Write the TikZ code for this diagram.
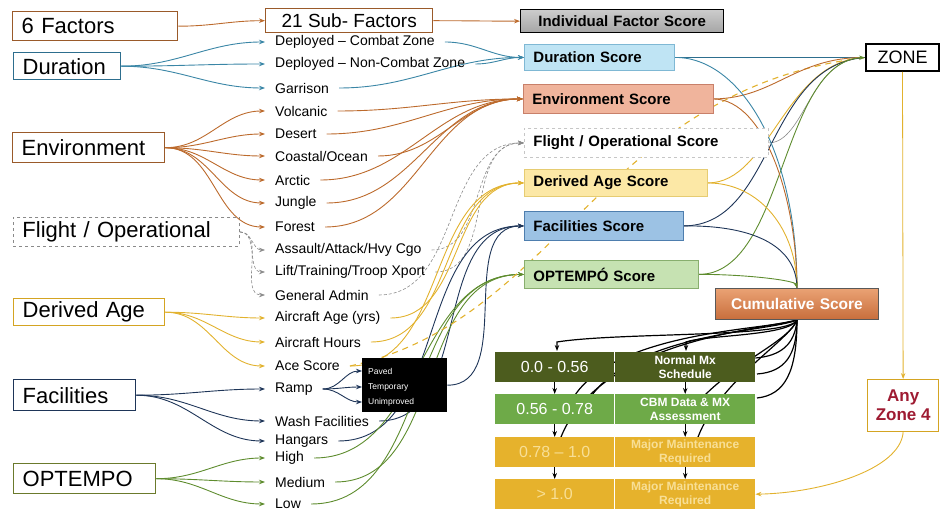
\documentclass[tikz,border=0pt]{standalone}
\usepackage{fontspec}
\setmainfont{Liberation Sans}
\usetikzlibrary{arrows.meta}
\pgfdeclarelayer{bg}
\pgfsetlayers{bg,main}
\definecolor{brn}{HTML}{BC6A2C}
\definecolor{brnb}{HTML}{9A5A2A}
\definecolor{dblue}{HTML}{3A86A6}
\definecolor{dblueb}{HTML}{2D6E8E}
\definecolor{gry}{HTML}{8A8A8A}
\definecolor{gold}{HTML}{E2B22E}
\definecolor{goldb}{HTML}{D4A422}
\definecolor{navy}{HTML}{1E3558}
\definecolor{olv}{HTML}{5E8C2E}
\definecolor{olvb}{HTML}{6B7A2C}
\definecolor{dscf}{HTML}{BFE4F4}
\definecolor{dscb}{HTML}{7FB8D4}
\definecolor{escf}{HTML}{F0B49C}
\definecolor{escb}{HTML}{C8806A}
\definecolor{ascf}{HTML}{FCE8A6}
\definecolor{ascb}{HTML}{E6CC72}
\definecolor{fscf}{HTML}{9CC2E4}
\definecolor{fscb}{HTML}{4E7EAE}
\definecolor{oscf}{HTML}{C6E2B2}
\definecolor{oscb}{HTML}{88AE6E}
\definecolor{cumt}{HTML}{EAA274}
\definecolor{cumb}{HTML}{C86E3C}
\definecolor{rowa}{HTML}{4C5C1E}
\definecolor{rowb}{HTML}{6EAA48}
\definecolor{rowc}{HTML}{E6B22C}
\definecolor{ltxt}{HTML}{F8DF96}
\definecolor{dred}{HTML}{9E1B32}
\begin{document}
\begin{tikzpicture}[x=1pt,y=-1pt,
 fbox/.style={draw, line width=1.4pt, anchor=north west, inner xsep=9pt, inner ysep=0pt, align=left, font=\fontsize{22}{24}\selectfont},
 sub/.style={anchor=west, inner xsep=10pt, inner ysep=1pt, font=\fontsize{14}{16}\selectfont},
 sbox/.style={draw, line width=0.9pt, anchor=north west, inner xsep=9pt, inner ysep=0pt, align=left, font=\bfseries\fontsize{15}{17}\selectfont},
 tip/.style={-{Stealth[length=6pt,width=4.5pt]}},
 cell/.style={anchor=north west, inner sep=0pt, align=center, minimum height=30pt},
 ln/.style={line width=0.9pt},
 blk/.style={line width=1.2pt, black},
]
\useasboundingbox (0,0) rectangle (940,510);

% ---------- left factor boxes ----------
\node[fbox, draw=brnb, minimum width=165pt, minimum height=29pt, text width=147pt] (sixf) at (12,11) {6 Factors};
\node[fbox, draw=dblueb, minimum width=107pt, minimum height=27pt, text width=89pt] (dur) at (13,52) {Duration};
\node[fbox, draw=brnb, minimum width=152pt, minimum height=30pt, text width=134pt] (env) at (12,132) {Environment};
\node[fbox, draw=gry, dashed, line width=0.9pt, minimum width=226pt, minimum height=29pt, text width=208pt] (flt) at (13,217) {Flight / Operational};
\node[fbox, draw=goldb, minimum width=151pt, minimum height=27pt, text width=133pt] (dage) at (13,298) {Derived Age};
\node[fbox, draw=navy, minimum width=122pt, minimum height=31pt, text width=104pt] (fac) at (13,379) {Facilities};
\node[fbox, draw=olvb, minimum width=142pt, minimum height=30pt, text width=124pt] (opt) at (13,463) {OPTEMPO};

% ---------- sub factors ----------
\node[draw=brnb, line width=1.4pt, anchor=north west, minimum width=167pt, minimum height=24pt, inner sep=0pt, font=\fontsize{19}{21}\selectfont] (sub21) at (265,8) {21 Sub- Factors};
\node[sub] (s1) at (265,42) {Deployed – Combat Zone};
\node[sub] (s2) at (265,64) {Deployed – Non-Combat Zone};
\node[sub] (s3) at (265,88) {Garrison};
\node[sub] (s4) at (265,111) {Volcanic};
\node[sub] (s5) at (265,134) {Desert};
\node[sub] (s6) at (265,156) {Coastal/Ocean};
\node[sub] (s7) at (265,180) {Arctic};
\node[sub] (s8) at (265,203) {Jungle};
\node[sub] (s9) at (265,227) {Forest};
\node[sub] (s10) at (265,250) {Assault/Attack/Hvy Cgo};
\node[sub] (s11) at (265,272) {Lift/Training/Troop Xport};
\node[sub] (s12) at (265,295) {General Admin};
\node[sub] (s13) at (265,318) {Aircraft Age (yrs)};
\node[sub] (s14) at (265,342) {Aircraft Hours};
\node[sub] (s15) at (265,366) {Ace Score};
\node[sub] (s16) at (265,389) {Ramp};
\node[sub] (s17) at (265,421) {Wash Facilities};
\node[sub] (s18) at (265,441) {Hangars};
\node[sub] (s19) at (265,458) {High};
\node[sub] (s20) at (265,482) {Medium};
\node[sub] (s21) at (265,504) {Low};

% black ramp box
\node[fill=black, anchor=north west, minimum width=85pt, minimum height=54pt, inner sep=0pt] (rbox) at (362,358) {};
\node[anchor=west, inner xsep=6pt, inner ysep=0pt, text=white, font=\fontsize{8.5}{10}\selectfont] (pv) at (362,371) {Paved};
\node[anchor=west, inner xsep=6pt, inner ysep=0pt, text=white, font=\fontsize{8.5}{10}\selectfont] (tp) at (362,387) {Temporary};
\node[anchor=west, inner xsep=6pt, inner ysep=0pt, text=white, font=\fontsize{8.5}{10}\selectfont] (un) at (362,402) {Unimproved};

% ---------- score boxes ----------
\node[sbox, draw=black, line width=1.3pt, top color=gray!40, bottom color=gray!70, minimum width=203pt, minimum height=23pt, text width=185pt, align=center] (ifs) at (520,9) {Individual Factor Score};
\node[sbox, draw=dscb, fill=dscf, minimum width=150pt, minimum height=26pt, text width=132pt] (dsc) at (524,44) {Duration Score};
\node[sbox, draw=escb, fill=escf, minimum width=190pt, minimum height=29pt, text width=172pt] (esc) at (523,84) {Environment Score};
\node[sbox, draw=gray!45, dashed, fill=white, minimum width=244pt, minimum height=29pt, text width=226pt] (fsc) at (524,128) {Flight / Operational Score};
\node[sbox, draw=ascb, fill=ascf, minimum width=183pt, minimum height=27pt, text width=165pt] (asc) at (524,169) {Derived Age Score};
\node[sbox, draw=fscb, fill=fscf, minimum width=159pt, minimum height=29pt, text width=141pt] (fasc) at (524,211) {Facilities Score};
\node[sbox, draw=oscb, fill=oscf, minimum width=174pt, minimum height=28pt, text width=156pt] (osc) at (524,260) {OPTEMPÓ Score};
\node[sbox, draw=gray!70!black, top color=cumt, bottom color=cumb, text=white, minimum width=163pt, minimum height=31pt, text width=145pt, align=center, font=\bfseries\fontsize{15.5}{17}\selectfont] (cum) at (715,288) {Cumulative Score};
\node[draw=black, line width=2pt, anchor=north west, minimum width=73pt, minimum height=27pt, inner sep=0pt, font=\fontsize{18}{20}\selectfont] (zone) at (865,43) {ZONE};
\node[draw=goldb, line width=1.3pt, anchor=north west, minimum width=71pt, minimum height=52pt, inner sep=0pt, align=center, text=dred, font=\bfseries\fontsize{17}{19}\selectfont] (anyz) at (867,379) {Any\\Zone 4};

% ---------- table ----------
\node[cell, fill=rowa, minimum width=119pt, text=white, font=\fontsize{16}{18}\selectfont] (r1a) at (495,352) {0.0 - 0.56};
\node[cell, fill=rowa, minimum width=140pt, text=white, font=\bfseries\fontsize{12}{14}\selectfont] (r1b) at (615,352) {Normal Mx\\Schedule};
\node[cell, fill=rowb, minimum width=119pt, text=white, font=\fontsize{16}{18}\selectfont] (r2a) at (495,394) {0.56 - 0.78};
\node[cell, fill=rowb, minimum width=140pt, text=white, font=\bfseries\fontsize{12}{14}\selectfont] (r2b) at (615,394) {CBM Data \& MX\\Assessment};
\node[cell, fill=rowc, minimum width=119pt, text=ltxt, font=\fontsize{16}{18}\selectfont] (r3a) at (495,437) {0.78 – 1.0};
\node[cell, fill=rowc, minimum width=140pt, text=ltxt, font=\bfseries\fontsize{12}{14}\selectfont] (r3b) at (615,437) {Major Maintenance\\Required};
\node[cell, fill=rowc, minimum width=119pt, text=ltxt, font=\fontsize{16}{18}\selectfont] (r4a) at (495,479) {> 1.0};
\node[cell, fill=rowc, minimum width=140pt, text=ltxt, font=\bfseries\fontsize{12}{14}\selectfont] (r4b) at (615,479) {Major Maintenance\\Required};

% ---------- factor -> sub factor connectors ----------
\draw[brn, ln, tip] (sixf.east) to[out=0,in=180] (sub21.west);
\draw[brn, ln, tip] (sub21.east) to[out=0,in=180] (ifs.west);
\foreach \s in {s1,s2,s3} \draw[dblue, ln, tip] (dur.east) to[out=0,in=180] (\s.west);
\foreach \s in {s4,s5,s6,s7,s8,s9} \draw[brn, ln, tip] (env.east) to[out=0,in=180] (\s.west);
\foreach \s in {s10,s11,s12} \draw[gry, line width=0.6pt, densely dashed, tip] (flt.east) to[out=0,in=180] (\s.west);
\foreach \s in {s13,s14,s15} \draw[gold, ln, tip] (dage.east) to[out=0,in=180] (\s.west);
\foreach \s in {s16,s17,s18} \draw[navy, ln, tip] (fac.east) to[out=0,in=180] (\s.west);
\foreach \s in {s19,s20,s21} \draw[olv, ln, tip] (opt.east) to[out=0,in=180] (\s.west);
\foreach \s in {pv,tp,un} \draw[navy, ln, tip] (s16.east) to[out=0,in=180] (\s.west);

% ---------- table arrows ----------
\draw[blk, tip] (r1a.south) -- (r2a.north);
\draw[blk, tip] (r2a.south) -- (r3a.north);
\draw[blk, tip] (r3a.south) -- (r4a.north);
\draw[blk, tip] (r1b.south) -- (r2b.north);
\draw[blk, tip] (r2b.south) -- (r3b.north);
\draw[blk, tip] (r3b.south) -- (r4b.north);
\draw[gold, line width=0.8pt, tip] (zone.south) -- (anyz.north);
\draw[gold, line width=0.9pt, tip] (anyz.south) .. controls (900,470) and (820,493) .. (r4b.east);

% ---------- background connectors ----------
\begin{pgfonlayer}{bg}
\foreach \s in {s1,s2,s3} \draw[dblue, ln, tip] (\s.east) to[out=0,in=180] (dsc.west);
\foreach \s in {s4,s5,s6,s7,s8,s9} \draw[brn, ln, tip] (\s.east) to[out=0,in=180] (esc.west);
\foreach \s in {s10,s11,s12} \draw[gry, line width=0.6pt, densely dashed, tip] (\s.east) to[out=0,in=180] (fsc.west);
\foreach \s in {s13,s14,s15} \draw[gold, ln, tip] (\s.east) to[out=0,in=180] (asc.west);
\foreach \s in {s17,s18,rbox} \draw[navy, ln, tip] (\s.east) to[out=0,in=180] (fasc.west);
\foreach \s in {s19,s20,s21} \draw[olv, ln, tip] (\s.east) to[out=0,in=180] (osc.west);
\draw[gold, line width=1.1pt, dash pattern=on 6pt off 5pt] (s15.east) .. controls (560,320) and (600,90) .. (zone.west);

% scores -> zone
\draw[dblueb, line width=0.7pt] (dsc.east) -- (zone.west);
\draw[brn, ln] (esc.east) .. controls (775,98) and (795,57) .. (zone.west);
\draw[gry, line width=0.6pt] (fsc.east) .. controls (805,142) and (810,57) .. (zone.west);
\draw[gold, ln] (asc.east) .. controls (770,183) and (785,60) .. (zone.west);
\draw[navy, ln] (fasc.east) .. controls (775,225) and (765,65) .. (zone.west);
\draw[olv, ln, -{Stealth[length=6pt,width=4.5pt]}] (osc.east) .. controls (785,274) and (780,62) .. (zone.west);
% scores -> cumulative
\draw[dblue, ln] (dsc.east) .. controls (740,57) and (797,150) .. (cum.north);
\draw[brn, ln] (esc.east) .. controls (765,100) and (797,200) .. (cum.north);
\draw[gold, ln] (asc.east) .. controls (760,183) and (797,230) .. (cum.north);
\draw[navy, ln] (fasc.east) .. controls (760,225) and (797,250) .. (cum.north);
\draw[olv, ln, -{Stealth[length=6pt,width=4.5pt]}] (osc.east) .. controls (740,274) and (795,280) .. (cum.north);

% cumulative -> table
\draw[blk, tip] (cum.south) .. controls (790,338) and (620,332) .. (557,342) -- (557,351);
\draw[blk, tip] (cum.south) .. controls (790,336) and (705,335) .. (686,342) -- (686,351);
\draw[blk] (cum.south) .. controls (795,345) and (780,356) .. (r1b.north east |- 0,358);
\draw[blk] (cum.south) .. controls (797,355) and (785,372) .. (757,374);
\draw[blk] (cum.south) .. controls (797,372) and (785,395) .. (757,398);
\draw[blk] (cum.south) .. controls (770,330) and (620,330) .. (575,395);
\draw[blk] (cum.south) .. controls (770,332) and (640,332) .. (592,395);
\draw[blk] (cum.south) .. controls (790,340) and (740,360) .. (705,395);
\draw[blk] (cum.south) .. controls (760,330) and (600,340) .. (561,437);
\draw[blk] (cum.south) .. controls (790,340) and (720,380) .. (698,437);
\end{pgfonlayer}
\end{tikzpicture}
\end{document}
